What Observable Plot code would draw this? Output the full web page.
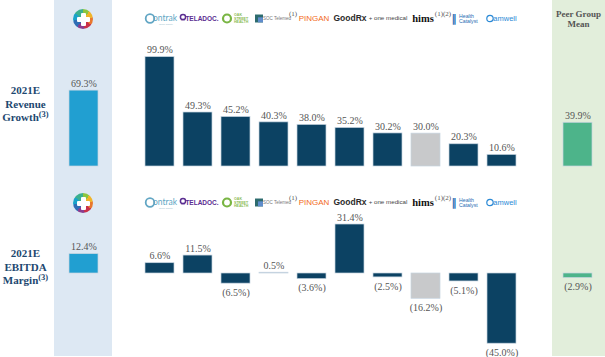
<!DOCTYPE html>
<html><head><meta charset="utf-8">
<script src="https://cdn.jsdelivr.net/npm/d3@7"></script>
<script src="https://cdn.jsdelivr.net/npm/@observablehq/plot@0.6"></script>
<style>
html,body{margin:0;padding:0;background:#fff;}
#wrap{position:relative;width:605px;height:357px;overflow:hidden;font-family:"Liberation Serif",serif;}
.panel{position:absolute;top:0;height:356px;}
.rowlabel{position:absolute;left:0;width:51px;text-align:center;font-weight:bold;font-size:11px;line-height:13.5px;color:#1d4870;}
.rowlabel sup{font-size:8.5px;vertical-align:4px;line-height:0;}
.peer{position:absolute;left:552px;width:53px;top:9px;text-align:center;font-weight:bold;font-size:9px;line-height:10px;color:#555;}
.icon{position:absolute;width:20px;height:20px;border-radius:50%;
 background:conic-gradient(#8cc63f 0deg 40deg,#f0b429 40deg 80deg,#e8782d 80deg 125deg,#c9304a 125deg 170deg,#8a3d8f 170deg 215deg,#2f6db5 215deg 260deg,#1aa3c9 260deg 305deg,#3bb08f 305deg 360deg);}
.icon::before{content:"";position:absolute;left:7.5px;top:3.5px;width:5px;height:13px;background:#fff;border-radius:1px;}
.icon::after{content:"";position:absolute;left:3.5px;top:7.5px;width:13px;height:5px;background:#fff;border-radius:1px;}
.chart{position:absolute;left:0;}
</style></head>
<body><div id="wrap">
<div class="panel" style="left:54px;width:58px;background:#dde8f3"></div>
<div class="panel" style="left:552px;width:53px;background:#e2eedb"></div>
<div class="icon" style="left:73px;top:9px"></div>
<div class="icon" style="left:73px;top:193px"></div>
<div class="rowlabel" style="top:84px">2021E<br>Revenue<br>Growth<sup>(3)</sup></div>
<div class="rowlabel" style="top:247px">2021E<br>EBITDA<br>Margin<sup>(3)</sup></div>
<div class="peer">Peer Group<br>Mean</div>
<div id="top" class="chart" style="top:0"></div>
<div id="bot" class="chart" style="top:180px"></div>
</div>
<script>
// ---- data ----
const peers = ["Ontrak", "Teladoc", "Oak Street Health", "SOC Telemed", "Ping An", "GoodRx", "One Medical", "Hims", "Health Catalyst", "Amwell"];
const logoLabels = ["ontrak", "TELADOC.", "OAK\nSTREET\nHEALTH", "SOC Telemed", "PINGAN", "GoodRx", "+ one medical", "hims", "Health\nCatalyst", "amwell"];
const revenueGrowth = [99.9, 49.3, 45.2, 40.3, 38.0, 35.2, 30.2, 30.0, 20.3, 10.6];
const ebitdaMargin = [6.6, 11.5, -6.5, 0.5, -3.6, 31.4, -2.5, -16.2, -5.1, -45.0];
const companyRevenue = 69.3;
const companyEbitda = 12.4;
const meanRevenue = 39.9;
const meanEbitda = -2.9;
const highlightedPeer = "Hims";

const categories = ["Company", "gap1", ...peers, "gap2", "Peer Group Mean"];

const fmt = v => v < 0 ? `(${Math.abs(v).toFixed(1)}%)` : `${v.toFixed(1)}%`;

function rows(values, company, mean) {
  return [
    {cat: "Company", v: company, color: "#219fd1"},
    ...peers.map((p, i) => ({cat: p, v: values[i], color: p === highlightedPeer ? "#c8c9cb" : (Math.abs(values[i]) < 1 ? "#a9c1d6" : "#0c4263")})),
    {cat: "Peer Group Mean", v: mean, color: "#4db48a"}
  ];
}

function logoMarks(yTop) {
  const marks = [];
  const P = peers;
  const base = {frameAnchor: "top", lineAnchor: "middle"};
  const t = (i, text, o) => Plot.text([P[i]], {x: d => d, ...base, dy: yTop, text: () => text, textAnchor: "middle", ...o});
  const d = (i, o) => Plot.dot([P[i]], {x: d => d, frameAnchor: "top", dy: yTop, ...o});
  marks.push(d(0, {dx: -10, r: 4.3, stroke: "#62a6c4", strokeWidth: 1.8, fill: "none"}));
  marks.push(t(0, logoLabels[0], {dx: 5, fill: "#62a6c4", fontSize: 8.5, fontFamily: "Lato", letterSpacing: 0.6}));
  marks.push(t(0, "home dignity", {dx: 6, dy: yTop + 6, fill: "#9bbccc", fontSize: 2.5, fontFamily: "Liberation Sans"}));
  marks.push(d(1, {dx: -15, dy: yTop - 1.5, r: 2.6, stroke: "#5a2d91", strokeWidth: 1.5, fill: "none"}));
  marks.push(t(1, "_", {dx: -15, dy: yTop - 1, fill: "#5a2d91", fontSize: 7, fontWeight: "bold", fontFamily: "Liberation Sans"}));
  marks.push(t(1, logoLabels[1], {dx: 4, fill: "#5a2d91", fontSize: 6.5, fontWeight: "bold", fontFamily: "Liberation Sans"}));
  marks.push(d(2, {dx: -9, r: 4, stroke: "#79b543", strokeWidth: 2.2, fill: "none"}));
  marks.push(t(2, logoLabels[2], {dx: -2, textAnchor: "start", lineHeight: 1, fill: "#8dbb55", fontSize: 3.6, fontFamily: "Liberation Sans", fontWeight: "bold"}));
  marks.push(d(3, {dx: -15, symbol: "square", r: 4.5, fill: "#2d6b6e"}));
  marks.push(d(3, {dx: -13.5, dy: yTop + 1.3, symbol: "square", r: 2.8, fill: "#5f8ccc"}));
  marks.push(t(3, logoLabels[3], {dx: 3, fill: "#777", fontSize: 4.5, fontFamily: "Liberation Sans"}));
  marks.push(t(3, "(1)", {dx: 19, dy: yTop - 5, fill: "#555", fontSize: 7, fontFamily: "Liberation Serif"}));
  marks.push(t(4, logoLabels[4], {dx: 2, fill: "#f26a22", fontSize: 8, fontFamily: "Liberation Sans", letterSpacing: 0.2}));
  marks.push(t(5, logoLabels[5], {dx: 0, fill: "#2b2b2b", fontSize: 8.5, fontWeight: "bold", fontFamily: "Liberation Sans"}));
  marks.push(t(6, logoLabels[6], {dx: 0, fill: "#444", fontSize: 6.2, fontFamily: "Liberation Sans"}));
  marks.push(t(7, logoLabels[7], {dx: -3, fill: "#111", fontSize: 10.5, fontWeight: "bold", fontFamily: "Liberation Serif"}));
  marks.push(t(7, "(1)(2)", {dx: 17, dy: yTop - 5, fill: "#555", fontSize: 7, fontFamily: "Liberation Serif"}));
  marks.push(t(8, "\u2016", {dx: -10, fill: "#1f6db4", fontSize: 10, fontWeight: "bold", fontFamily: "DejaVu Sans"}));
  marks.push(t(8, logoLabels[8], {dx: -5, textAnchor: "start", lineHeight: 1, fill: "#1f6db4", fontSize: 5.2, fontFamily: "Liberation Sans"}));
  marks.push(d(9, {dx: -12, r: 3.2, stroke: "#2b8ad6", strokeWidth: 1.2, fill: "none"}));
  marks.push(t(9, logoLabels[9], {dx: 3, fill: "#2b8ad6", fontSize: 7.5, fontFamily: "Liberation Sans"}));
  return marks;
}

function chart({values, company, mean, yDomain, yRange, height, logoY}) {
  const data = rows(values, company, mean);
  return Plot.plot({
    width: 605,
    height,
    marginTop: 0, marginBottom: 0, marginLeft: 0, marginRight: 0,
    style: {background: "none", overflow: "visible"},
    x: {domain: categories, range: [62.85, 599.2], paddingInner: 0.23, paddingOuter: 0.115, axis: null},
    y: {domain: yDomain, range: yRange, axis: null},
    color: {type: "identity"},
    marks: [
      Plot.barY(data, {x: "cat", y: "v", fill: "color", stroke: "#c6d4e0", strokeWidth: 0.7}),
      Plot.text(data.filter(d => d.v >= 0), {x: "cat", y: "v", text: d => fmt(d.v), dy: -7, fill: "#555", fontSize: 10, fontFamily: "Liberation Serif"}),
      Plot.text(data.filter(d => d.v < 0), {x: "cat", y: "v", text: d => fmt(d.v), dy: 9, fill: "#555", fontSize: 10, fontFamily: "Liberation Serif"}),
      ...logoMarks(logoY)
    ]
  });
}

document.getElementById("top").appendChild(chart({
  values: revenueGrowth, company: companyRevenue, mean: meanRevenue,
  yDomain: [0, 100], yRange: [166, 56.5], height: 180, logoY: 18
}));
document.getElementById("bot").appendChild(chart({
  values: ebitdaMargin, company: companyEbitda, mean: meanEbitda,
  yDomain: [-45, 35], yRange: [163.2, 38.4], height: 177, logoY: 22
}));
</script>
</body></html>
